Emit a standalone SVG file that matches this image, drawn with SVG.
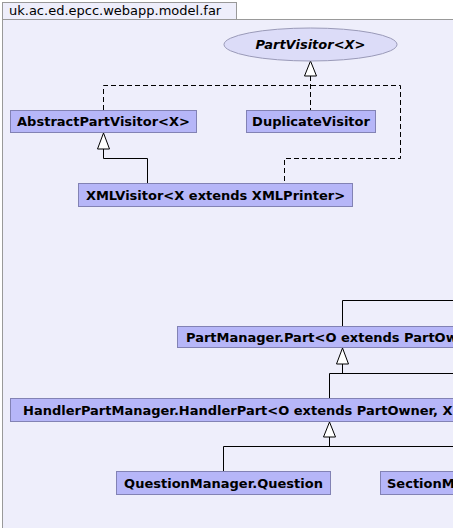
<svg xmlns="http://www.w3.org/2000/svg" width="453" height="528" viewBox="0 0 453 528">
<style>
.frame{fill:#eeeefb;stroke:#999999;stroke-width:1}
.node{fill:#b6b6f8;stroke:#8282b4;stroke-width:1}
.iface{fill:#dcdcf8;stroke:#9a9ab8;stroke-width:1}
.lbl{font-family:"DejaVu Sans",sans-serif;font-size:13px;font-weight:bold;fill:#000}
.ttl{font-family:"DejaVu Sans",sans-serif;font-size:13px;fill:#000}
.ln{fill:none;stroke:#000;stroke-width:1}
.dash{fill:none;stroke:#000;stroke-width:1;stroke-dasharray:5,3}
.tri{fill:#fff;stroke:#000;stroke-width:1}
</style>
<rect x="0" y="0" width="453" height="528" fill="#ffffff"/>
<g id="package">
<rect class="frame" x="2.5" y="2.5" width="234" height="17"/>
<rect class="frame" x="2.5" y="19.5" width="460" height="520"/>
<text class="ttl" x="9" y="15">uk.ac.ed.epcc.webapp.model.far</text>
</g>
<g id="connectors">
<polyline class="dash" points="103.5,110 103.5,85.5 400.5,85.5 400.5,158.5 284.5,158.5 284.5,184"/>
<polyline class="dash" points="310.5,76 310.5,110"/>
<polygon class="tri" points="310.5,61 304.5,76 316.5,76"/>
<polyline class="ln" points="103.5,149 103.5,158.5 147.5,158.5 147.5,184"/>
<polygon class="tri" points="103.5,133 97.5,149 109.5,149"/>
<polyline class="ln" points="342.5,327 342.5,300.5 460,300.5"/>
<polyline class="ln" points="342.5,364 342.5,373.5"/>
<polyline class="ln" points="329.5,399 329.5,373.5 460,373.5"/>
<polygon class="tri" points="342.5,348 336.5,364 348.5,364"/>
<polyline class="ln" points="329.5,437 329.5,446.5"/>
<polyline class="ln" points="223.5,471 223.5,446.5 460,446.5"/>
<polygon class="tri" points="329.5,422 323.5,437 335.5,437"/>
</g>
<g id="PartVisitor">
<ellipse class="iface" cx="310.5" cy="44.5" rx="86.5" ry="16.5"/>
<text class="lbl" x="310.5" y="49" text-anchor="middle" font-style="italic">PartVisitor&lt;X&gt;</text>
</g>
<g id="AbstractPartVisitor">
<rect class="node" x="10.5" y="110.5" width="186" height="22"/>
<text class="lbl" x="103.5" y="126" text-anchor="middle">AbstractPartVisitor&lt;X&gt;</text>
</g>
<g id="DuplicateVisitor">
<rect class="node" x="246.5" y="110.5" width="129" height="22"/>
<text class="lbl" x="311" y="126" text-anchor="middle">DuplicateVisitor</text>
</g>
<g id="XMLVisitor">
<rect class="node" x="78.5" y="183.5" width="274" height="23"/>
<text class="lbl" x="215.5" y="200" text-anchor="middle">XMLVisitor&lt;X extends XMLPrinter&gt;</text>
</g>
<g id="PartManagerPart">
<rect class="node" x="177.5" y="326.5" width="290" height="21"/>
<text class="lbl" x="186" y="342">PartManager.Part&lt;O extends PartOwner&gt;</text>
</g>
<g id="HandlerPart">
<rect class="node" x="10.5" y="398.5" width="460" height="23"/>
<text class="lbl" x="23" y="415">HandlerPartManager.HandlerPart&lt;O extends PartOwner, X&gt;</text>
</g>
<g id="QuestionManagerQuestion">
<rect class="node" x="116.5" y="471.5" width="214" height="23"/>
<text class="lbl" x="223.5" y="488" text-anchor="middle">QuestionManager.Question</text>
</g>
<g id="SectionManager">
<rect class="node" x="380.5" y="471.5" width="100" height="23"/>
<text class="lbl" x="387" y="488">SectionManager.Section</text>
</g>
</svg>
